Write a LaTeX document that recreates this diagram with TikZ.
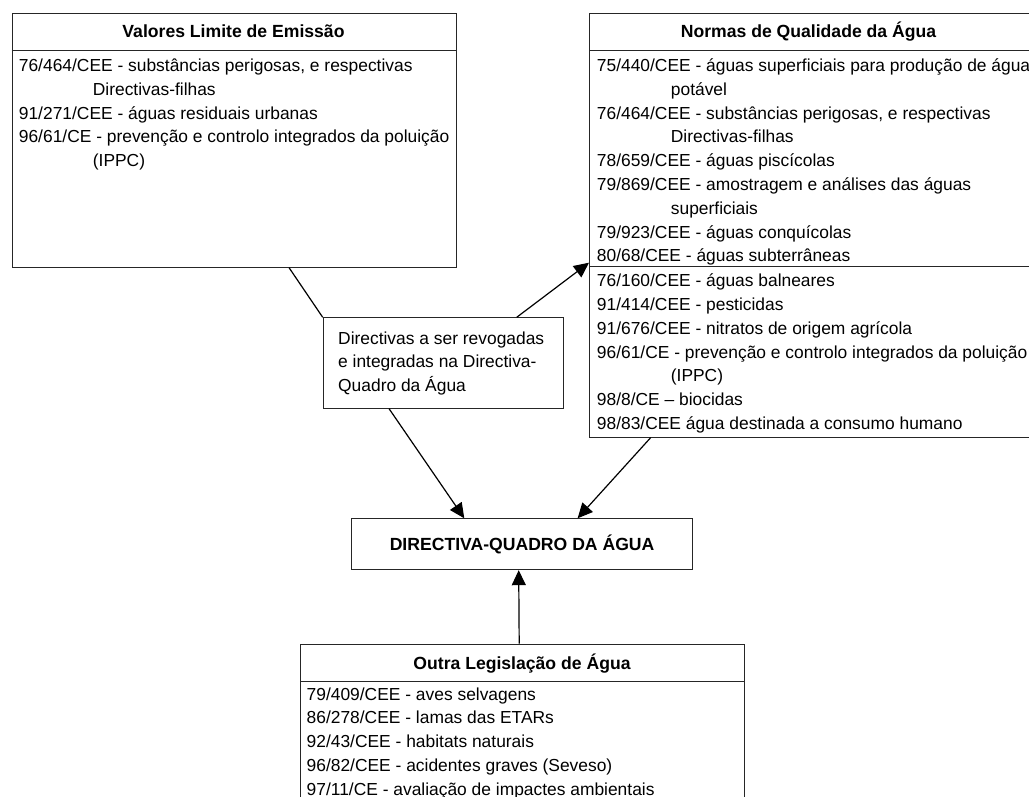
\documentclass[tikz,border=0pt]{standalone}
\usepackage{fontspec}
\setmainfont{Liberation Sans}
\usetikzlibrary{arrows.meta}
\begin{document}
\begin{tikzpicture}[x=1pt,y=-1pt,
  box/.style={draw=black!85,line width=0.9pt,anchor=north west,inner sep=0pt},
  head/.style={anchor=base,inner sep=0pt,font=\fontsize{17.6}{23.8}\selectfont\bfseries},
  lista/.style={anchor=base west,inner sep=0pt,align=left,font=\fontsize{17.4}{23.8}\selectfont},
  sep/.style={draw=black!85,line width=0.9pt},
  ln/.style={line width=1.2pt},
  arr/.style={line width=1.2pt,-{Triangle[length=15pt,width=14pt]}}]

    \useasboundingbox (0,0) rectangle (1029,796);
    \clip (0,0) rectangle (1029,796);

    % caixas
    \node[box,minimum width=444.3pt,minimum height=253.4pt] (vle) at (11.7,13.3) {};
    \node[box,minimum width=460pt,minimum height=423.4pt] (nqa) at (589,13.3) {};
    \node[box,minimum width=240.6pt,minimum height=90.4pt] (rev) at (322.7,317.3) {};
    \node[box,minimum width=341.3pt,minimum height=51pt,font=\fontsize{17.6}{23.8}\selectfont\bfseries] (dqa) at (351,518.3) {DIRECTIVA-QUADRO DA ÁGUA};
    \node[box,minimum width=444.3pt,minimum height=200pt] (outra) at (300,643.7) {};

    \draw[sep] ([yshift=-36.7pt]vle.north west) -- ([yshift=-36.7pt]vle.north east);
    \draw[sep] ([yshift=-36.7pt]nqa.north west) -- ([yshift=-36.7pt]nqa.north east);
    \draw[sep] ([yshift=-253.4pt]nqa.north west) -- ([yshift=-253.4pt]nqa.north east);
    \draw[sep] ([yshift=-37.3pt]outra.north west) -- ([yshift=-37.3pt]outra.north east);

    % titulos
    \node[head] (vlehead) at (233.5,37.5) {Valores Limite de Emissão};
    \node[head] (nqahead) at (808.5,37.7) {Normas de Qualidade da Água};
    \node[head] (outrahead) at (522,669) {Outra Legislação de Água};

    % listas (base = ultima linha)
    \node[lista] (vlelist) at (18.7,166.7) {76/464/CEE - substâncias perigosas, e respectivas\\
      \hspace*{74pt}Directivas-filhas\\
      91/271/CEE - águas residuais urbanas\\
      96/61/CE - prevenção e controlo integrados da poluição\\
      \hspace*{74pt}(IPPC)};
    \node[lista] (nqalist) at (596.7,261.9) {75/440/CEE - águas superficiais para produção de água\\
      \hspace*{74pt}potável\\
      76/464/CEE - substâncias perigosas, e respectivas\\
      \hspace*{74pt}Directivas-filhas\\
      78/659/CEE - águas piscícolas\\
      79/869/CEE - amostragem e análises das águas\\
      \hspace*{74pt}superficiais\\
      79/923/CEE - águas conquícolas\\
      80/68/CEE - águas subterrâneas};
    \node[lista] (nqalist2) at (596.7,429.5) {76/160/CEE - águas balneares\\
      91/414/CEE - pesticidas\\
      91/676/CEE - nitratos de origem agrícola\\
      96/61/CE - prevenção e controlo integrados da poluição\\
      \hspace*{74pt}(IPPC)\\
      98/8/CE – biocidas\\
      98/83/CEE água destinada a consumo humano};
    \node[lista] (revtxt) at (338,391.6) {Directivas a ser revogadas\\
      e integradas na Directiva-\\
      Quadro da Água};
    \node[lista] (outralist) at (306.5,795.2) {79/409/CEE - aves selvagens\\
      86/278/CEE - lamas das ETARs\\
      92/43/CEE - habitats naturais\\
      96/82/CEE - acidentes graves (Seveso)\\
      97/11/CE - avaliação de impactes ambientais};

    % ligacoes
    \draw[ln] ([xshift=277.3pt]vle.south west) -- (rev.north west);
    \draw[arr] ([xshift=194pt]rev.north west) -- ([yshift=-249.4pt]nqa.north west);
    \draw[arr] ([xshift=66.3pt]rev.south west) -- ([xshift=113.3pt]dqa.north west);
    \draw[arr] ([xshift=61.7pt]nqa.south west) -- ([xshift=-115.6pt]dqa.north east);
    \draw[arr] ([xshift=-3.4pt]outra.north) -- ([xshift=-3.4pt]dqa.south);
\end{tikzpicture}
\end{document}
